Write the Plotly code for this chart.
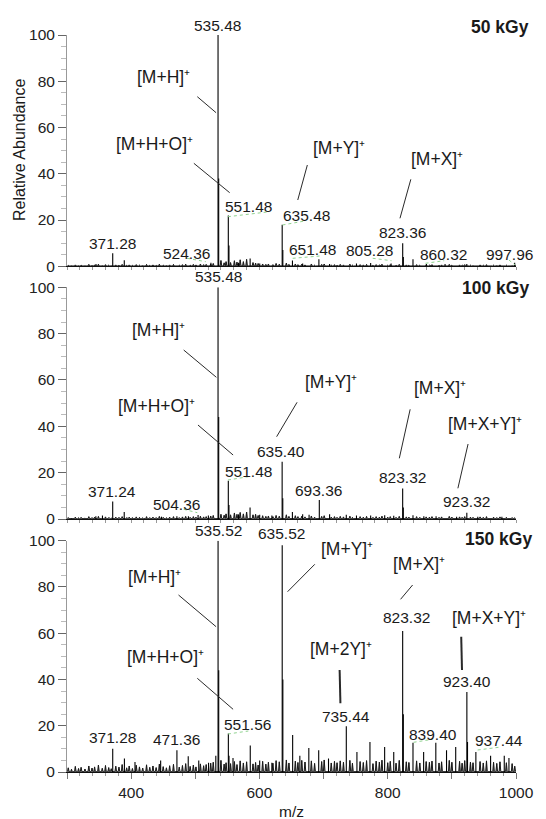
import plotly.graph_objects as go

# ---------------- data ----------------
noise_mz = [302, 307, 313, 318, 322, 328, 334, 339, 343, 349,
            355, 360, 365, 369, 376, 381, 386, 393, 397, 402,
            408, 413, 418, 424, 429, 434, 439, 444, 450, 455,
            460, 466, 475, 480, 485, 492, 497, 501, 508, 513,
            517, 524, 528, 540, 545,
            548, 555, 561, 565, 570, 575, 580, 590, 594, 598,
            605, 610, 614, 621, 626, 631, 642, 646, 656, 660,
            666, 671, 681, 686, 697, 701, 712, 717, 721, 726,
            731, 741, 745, 757, 762, 767, 777, 782, 787, 791,
            800, 804, 813, 818, 829, 833, 845, 850, 860, 865,
            869, 880, 884, 896, 900, 912, 916, 920, 929, 933,
            944, 949, 954, 965, 970, 975, 985, 994, 998]

noise_50 = [0.4, 0.3, 0.6, 0.3, 0.5, 0.3, 0.8, 0.4, 0.6, 0.9,
            0.4, 0.7, 0.5, 0.3, 0.6, 0.5, 0.8, 0.4, 0.6, 0.4,
            0.7, 0.5, 0.4, 0.8, 0.4, 0.6, 0.4, 0.9, 0.5, 0.4,
            0.6, 0.8, 0.5, 0.7, 0.9, 0.5, 0.8, 0.6, 1.0, 0.7,
            0.8, 1.0, 1.2, 2.5, 1.5,
            2.0, 1.6, 2.4, 1.8, 2.8, 2.0, 3.0, 1.6, 1.4, 1.2,
            1.0, 0.8, 1.0, 0.7, 1.2, 0.9, 1.4, 0.8, 1.0, 0.7,
            0.9, 0.6, 1.0, 0.5, 0.8, 1.0, 0.5, 0.7, 0.5, 0.8,
            0.6, 0.9, 0.5, 0.7, 0.6, 0.8, 0.5, 0.7, 0.6, 0.9,
            0.5, 0.7, 0.5, 0.8, 0.6, 0.5, 0.7, 0.5, 0.6, 0.5,
            0.7, 0.5, 0.6, 0.8, 0.5, 0.6, 0.5, 0.7, 0.5, 0.4,
            0.6, 0.5, 0.7, 0.5, 0.4, 0.6, 0.5, 0.4, 0.6]

noise_100 = [0.6, 0.4, 0.8, 0.5, 0.7, 0.4, 1.0, 0.6, 0.8, 1.1,
             0.5, 0.9, 0.6, 0.4, 0.8, 0.7, 1.0, 0.5, 0.8, 0.6,
             0.9, 0.7, 0.5, 1.0, 0.6, 0.8, 0.6, 1.1, 0.7, 0.5,
             0.8, 1.0, 0.6, 0.9, 1.1, 0.7, 1.0, 0.8, 1.2, 0.9,
             1.0, 1.3, 1.5, 2.0, 1.6,
             2.2, 1.8, 2.6, 2.0, 2.8, 2.2, 3.0, 1.8, 2.0, 1.5,
             1.4, 1.1, 1.3, 1.0, 1.5, 1.2, 1.8, 1.1, 1.4, 1.0,
             1.2, 0.9, 1.3, 0.8, 1.1, 1.4, 0.8, 1.0, 0.7, 1.1,
             0.9, 1.2, 0.7, 1.0, 0.8, 1.1, 0.7, 1.0, 0.8, 1.2,
             0.8, 1.0, 0.7, 1.1, 0.9, 0.8, 1.0, 0.7, 0.9, 0.8,
             1.0, 0.7, 0.9, 1.1, 0.8, 0.9, 0.7, 1.0, 0.8, 0.7,
             0.9, 0.7, 1.0, 0.8, 0.6, 0.9, 0.7, 0.6, 0.5]

noise_150 = [1.8, 1.2, 2.4, 1.5, 2.0, 1.3, 2.6, 1.7, 2.2, 3.0,
             1.6, 2.8, 1.9, 1.4, 2.5, 2.1, 3.2, 1.8, 2.6, 1.5,
             2.9, 2.2, 1.7, 3.1, 2.0, 2.6, 1.9, 3.4, 2.3, 1.8,
             2.7, 3.3, 2.1, 2.8, 3.6, 2.4, 3.0, 2.2, 3.5, 2.7,
             3.2, 3.8, 4.2, 5.0, 3.4,
             4.0, 3.6, 4.5, 3.2, 4.8, 3.9, 4.4, 3.5, 4.1, 3.0,
             4.6, 3.4, 4.2, 3.8, 4.9, 4.4, 5.2, 3.9, 4.7, 4.1,
             5.0, 4.3, 4.8, 3.7, 4.5, 5.2, 3.9, 4.6, 4.0, 4.8,
             4.2, 5.0, 3.8, 4.5, 4.1, 4.9, 3.6, 4.7, 4.3, 5.1,
             4.0, 4.6, 3.8, 5.0, 4.4, 4.1, 4.8, 3.9, 4.5, 4.2,
             4.7, 3.9, 4.4, 5.0, 4.2, 4.6, 3.8, 4.9, 4.3, 4.0,
             4.5, 3.9, 4.8, 4.2, 3.7, 4.4, 4.0, 3.6, 2.5]

peaks_50_mz = [345.2, 371.28, 389.3, 524.36, 535.48, 536.48, 551.48, 552.48, 567.4,
               585.5, 600.5, 635.48, 636.48, 651.48, 667.4, 692.7, 709.4, 751.3,
               773.4, 805.28, 823.36, 824.36, 839.4, 860.32, 889.4, 923.3, 997.96]
peaks_50_int = [1.0, 5.6, 2.6, 1.5, 100, 38, 22, 9, 1.5,
                3.4, 1.2, 18, 7, 2.5, 1.2, 3.0, 1.0, 1.2,
                1.4, 1.2, 10, 4, 3.0, 1.0, 1.0, 1.0, 1.5]

peaks_100_mz = [345.0, 355.3, 371.24, 389.2, 447.3, 471.3, 489.3, 504.36, 520.4,
                535.48, 536.48, 551.48, 552.48, 567.4, 585.4, 600.4, 619.4,
                635.40, 636.40, 651.4, 667.4, 677.4, 693.36, 709.4, 735.4, 751.3,
                773.4, 795.3, 809.4, 823.32, 824.32, 839.4, 856.3, 875.4, 907.4,
                923.32, 940.4, 978.0]
peaks_100_int = [1.2, 1.5, 7.5, 3.0, 1.0, 1.2, 1.2, 1.7, 1.5,
                 100, 44, 16.5, 6, 2.0, 5.0, 1.8, 1.5,
                 24.7, 9, 3.0, 2.0, 1.8, 8.2, 2.0, 1.8, 1.5,
                 1.5, 1.6, 1.4, 13.2, 5, 1.6, 1.2, 1.2, 1.0,
                 2.7, 1.0, 1.0]

peaks_150_mz = [371.28, 389.5, 406.0, 446.0, 471.36, 489.0, 505.4, 520.7, 532.0,
                535.52, 536.52, 551.56, 552.56, 558.8, 585.7, 600.4, 619.4,
                635.52, 636.52, 651.8, 663.0, 677.0, 692.4, 707.7, 735.44, 752.0,
                772.3, 795.2, 809.4, 823.32, 824.32, 839.40, 856.0, 875.0, 891.7,
                906.0, 923.40, 924.40, 937.44, 960.4, 981.7, 989.0]
peaks_150_int = [10.1, 5.8, 4.3, 5.0, 9.4, 6.8, 5.0, 4.0, 7.0,
                 100, 44, 16.6, 7, 6.0, 11.5, 5.0, 4.0,
                 98, 40, 16.0, 7.0, 10.4, 9.4, 5.8, 19.8, 8.7,
                 13.0, 10.8, 8.7, 61, 25, 12.6, 8.7, 12.6, 9.4,
                 10.8, 34.6, 13, 8.7, 7.0, 7.0, 6.0]

panel_names = ["50 kGy", "100 kGy", "150 kGy"]
x_ticks = [300, 400, 500, 600, 700, 800, 900, 1000]
x_ticktext = ["", "400", "", "600", "", "800", "", "1000"]
y_ticks = [0, 20, 40, 60, 80, 100]

# ---------------- geometry ----------------
W, H = 546, 819
ML, MR, MT, MB = 67, 20, 35, 47
PW = W - ML - MR
PH = H - MT - MB
FONT = "Liberation Sans, Arial, sans-serif"
PLUS = "\u207a"


def px(x, y):
    return (x - ML) / PW, (H - MB - y) / PH


def sticks(mz, it):
    xs, ys = [], []
    for m, h in zip(mz, it):
        xs += [m, m, None]
        ys += [0, h, None]
    return xs, ys


def profile(mz, it, half=1.3):
    # continuous baseline with narrow triangular noise spikes
    xs, ys = [], []
    for m, h in zip(mz, it):
        xs += [m - half, m, m + half]
        ys += [0.15, h, 0.15]
    return xs, ys


panel_px = [(35, 266.3), (287.3, 519), (540.7, 772)]
panels = [
    (peaks_50_mz, peaks_50_int, noise_50),
    (peaks_100_mz, peaks_100_int, noise_100),
    (peaks_150_mz, peaks_150_int, noise_150),
]

fig = go.Figure()
layout = dict(
    width=W, height=H,
    margin=dict(l=ML, r=MR, t=MT, b=MB, pad=0),
    paper_bgcolor="white", plot_bgcolor="white",
    showlegend=False,
    font=dict(family=FONT, size=15, color="#222"),
)

for i, (pmz, pint, nint) in enumerate(panels):
    k = "" if i == 0 else str(i + 1)
    xa, ya = "x" + k, "y" + k
    nx, ny = profile(noise_mz, nint)
    fig.add_trace(go.Scatter(x=nx, y=ny, mode="lines", xaxis=xa, yaxis=ya,
                             line=dict(color="#1a1a1a", width=1.0), hoverinfo="skip"))
    sx, sy = sticks(noise_mz, nint)
    fig.add_trace(go.Scatter(x=sx, y=sy, mode="lines", xaxis=xa, yaxis=ya,
                             line=dict(color="#1a1a1a", width=0.8), hoverinfo="skip"))
    sx, sy = sticks(pmz, pint)
    fig.add_trace(go.Scatter(x=sx, y=sy, mode="lines", xaxis=xa, yaxis=ya,
                             line=dict(color="black", width=1.1), hoverinfo="skip"))
    top, bot = panel_px[i]
    d0 = px(0, bot)[1]
    d1 = px(0, top)[1]
    layout["xaxis" + k] = dict(
        domain=[0, 1], anchor=ya, range=[300, 1000],
        showline=True, linecolor="#111", linewidth=1.2,
        tickmode="array", tickvals=x_ticks,
        ticktext=x_ticktext if i == 2 else [""] * len(x_ticks),
        showticklabels=(i == 2),
        ticks="outside", ticklen=6, tickcolor="#777", tickwidth=1,
        minor=dict(tick0=300, dtick=20, ticks="outside", ticklen=3, tickcolor="#999"),
        showgrid=False, zeroline=False,
        tickfont=dict(size=15.5, color="#222"),
    )
    layout["yaxis" + k] = dict(
        domain=[max(d0, 0), min(d1, 1)], anchor=xa, range=[0, 100],
        showline=True, linecolor="#999", linewidth=1,
        tickmode="array", tickvals=y_ticks,
        ticks="outside", ticklen=8, tickcolor="#666", tickwidth=1,
        minor=dict(tick0=0, dtick=5, ticks="outside", ticklen=5, tickcolor="#bbb"),
        showgrid=False, zeroline=False,
        tickfont=dict(size=15.5, color="#222"),
    )

annotations = []


def txt(s, x, y, size=15, bold=False, xanchor="center", angle=0):
    xp, yp = px(x, y)
    annotations.append(dict(
        text=("<b>%s</b>" % s) if bold else s, x=xp, y=yp, xref="paper", yref="paper",
        xanchor=xanchor, yanchor="middle", showarrow=False, textangle=angle,
        font=dict(family=FONT, size=size, color="#1a1a1a")))


# peak m/z labels
num_labels = [
    ("535.48", 221, 25), ("551.48", 252.4, 206.7), ("635.48", 311.6, 215),
    ("371.28", 113.2, 243.3), ("524.36", 189.1, 254), ("651.48", 317.5, 249.3),
    ("805.28", 376.7, 250.7), ("823.36", 409.8, 232.3), ("860.32", 451.6, 254.3),
    ("535.48", 222, 276.7), ("551.48", 252.4, 471), ("635.40", 286.2, 451),
    ("693.36", 324.5, 490), ("823.32", 409.8, 477.3), ("923.32", 475.3, 501.7),
    ("371.24", 113.2, 491), ("504.36", 179.3, 504),
    ("535.52", 222, 530.5), ("635.52", 286.2, 533.5), ("823.32", 413.6, 617.3),
    ("923.40", 476, 681.7), ("735.44", 352.4, 716), ("551.56", 251.7, 724),
    ("371.28", 113.2, 737.3), ("471.36", 178.6, 739.3), ("839.40", 441.2, 734),
    ("937.44", 509, 740.7),
]
for s, x, y in num_labels:
    txt(s, x, y, 15.5)
txt("997.96", 545, 254.3, 15.5, xanchor="right")

ion_labels = [
    ("[M+H]", 166.1, 77.3), ("[M+H+O]", 156.7, 144),
    ("[M+Y]", 344.7, 148.3), ("[M+X]", 445.7, 159.3),
    ("[M+H]", 160.2, 330), ("[M+H+O]", 158.4, 406),
    ("[M+Y]", 337, 381.7), ("[M+X]", 448.1, 388.3),
    ("[M+X+Y]", 494.4, 424),
    ("[M+Y]", 353.4, 549.3), ("[M+H]", 156.7, 576.7),
    ("[M+X]", 426.5, 564.3), ("[M+X+Y]", 497.9, 618.3),
    ("[M+2Y]", 347.1, 649.3), ("[M+H+O]", 168.2, 656.7),
]
for s, x, y in ion_labels:
    txt(s + PLUS, x, y, 17.5)

# panel titles
txt(panel_names[0], 541, 27, 17.5, bold=True, xanchor="right")
txt(panel_names[1], 541, 288, 17.5, bold=True, xanchor="right")
txt(panel_names[2], 544, 539, 17.5, bold=True, xanchor="right")

# axis titles
txt("Relative Abundance", 19, 150, 16, angle=-90)
txt("m/z", 296, 811, 15.5)

shapes = []


def seg(x0, y0, x1, y1, color="#333", width=1, dash="solid"):
    a = px(x0, y0)
    b = px(x1, y1)
    shapes.append(dict(type="line", xref="paper", yref="paper",
                       x0=a[0], y0=a[1], x1=b[0], y1=b[1],
                       line=dict(color=color, width=width, dash=dash)))


pointers = [
    (200.2, 96.7, 219.4, 112.7, 1), (196.7, 163.3, 233.3, 192.7, 1),
    (312.7, 165, 302.9, 200, 1), (418.5, 179.3, 407.4, 218.3, 1),
    (186.3, 350, 219.7, 377.3, 1), (200.9, 425, 236.8, 455, 1),
    (302.2, 402.3, 281.3, 436.7, 1), (417.8, 409.3, 406.7, 458.3, 1),
    (477, 444, 466.6, 488.3, 1),
    (320.3, 564.3, 292.5, 591.7, 1), (181, 595, 219.4, 626.7, 1),
    (420.3, 585, 408, 599.3, 1), (470, 636.7, 470.8, 670, 2),
    (345.7, 670, 346.5, 703.3, 2), (200.2, 678.3, 236.8, 709.3, 1),
]
for x0, y0, x1, y1, w in pointers:
    seg(x0, y0, x1, y1, "#2a2a2a", w)

leaders = [
    (231.5, 216.7, 271.6, 212), (287.3, 225, 311.6, 220.7), (189.8, 258.3, 208.9, 261.7),
    (297.7, 258.3, 325.6, 256), (379.5, 258.3, 398.7, 260.7), (433.5, 263.3, 452.6, 260.7),
    (518.8, 260, 525, 265),
    (231.5, 480, 252.4, 476.7), (186.3, 509.3, 200.2, 512.7),
    (231.5, 734, 252.4, 731), (421.3, 742.3, 440.5, 739.3), (486.8, 750, 508.4, 747.3),
]
for x0, y0, x1, y1 in leaders:
    seg(x0, y0, x1, y1, "#8fd38f", 1, "dot")

layout["annotations"] = annotations
layout["shapes"] = shapes
fig.update_layout(**layout)
fig.write_html("out.html", config={"displayModeBar": False})
